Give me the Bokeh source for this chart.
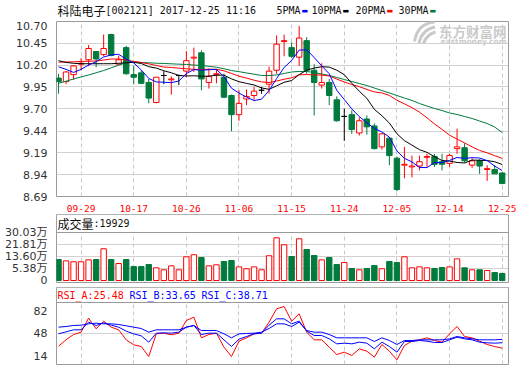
from bokeh.plotting import figure
from bokeh.layouts import column
from bokeh.models import (Range1d, FixedTicker, Span, Label, BoxAnnotation,
                          PrintfTickFormatter, ColumnDataSource)
from bokeh.embed import file_html
from bokeh.resources import INLINE

# ---------------- data ----------------
dates = ["09-26", "09-27", "09-28", "09-29", "10-09", "10-10", "10-11", "10-12", "10-13", "10-16",
         "10-17", "10-18", "10-19", "10-20", "10-23", "10-24", "10-25", "10-26", "10-27", "10-30",
         "10-31", "11-01", "11-02", "11-03", "11-06", "11-07", "11-08", "11-09", "11-10", "11-13",
         "11-14", "11-15", "11-16", "11-17", "11-20", "11-21", "11-22", "11-23", "11-24", "11-27",
         "11-28", "11-29", "11-30", "12-01", "12-04", "12-05", "12-06", "12-07", "12-08", "12-11",
         "12-12", "12-13", "12-14", "12-15", "12-18", "12-19", "12-20", "12-21", "12-22", "12-25"]
date_ticks = [3, 10, 17, 24, 31, 38, 45, 52, 59]

open_ = [10.05, 10.01, 10.09, 10.21, 10.26, 10.355, 10.32, 10.55, 10.21, 10.40,
         10.09, 10.11, 10.00, 9.77, 10.08, 10.03, 10.08, 10.13, 10.28, 10.34,
         10.00, 10.09, 10.06, 9.85, 9.63, 9.81, 9.85, 9.91, 9.98, 10.14,
         10.47, 10.40, 10.29, 10.48, 10.14, 9.97, 10.00, 9.80, 9.61, 9.63,
         9.42, 9.58, 9.50, 9.26, 9.36, 9.13, 9.05, 9.03, 9.04, 9.14,
         9.15, 9.09, 9.07, 9.24, 9.25, 9.05, 9.10, 9.00, 9.00, 8.96]
high = [10.10, 10.13, 10.20, 10.28, 10.43, 10.36, 10.55, 10.56, 10.31, 10.42,
        10.19, 10.14, 10.04, 10.06, 10.13, 10.07, 10.09, 10.36, 10.40, 10.37,
        10.16, 10.15, 10.10, 9.86, 9.91, 9.92, 9.95, 9.95, 10.18, 10.54,
        10.55, 10.46, 10.65, 10.52, 10.21, 10.22, 10.04, 9.84, 9.70, 9.68,
        9.60, 9.62, 9.53, 9.42, 9.37, 9.15, 9.26, 9.16, 9.16, 9.18,
        9.18, 9.18, 9.18, 9.47, 9.30, 9.13, 9.12, 9.05, 9.05, 8.97]
low = [9.87, 9.98, 10.03, 10.14, 10.19, 10.175, 10.30, 10.30, 10.20, 10.09,
       9.98, 9.98, 9.76, 9.76, 9.98, 9.86, 9.97, 10.06, 10.12, 9.91,
       9.93, 9.99, 9.82, 9.44, 9.56, 9.74, 9.80, 9.87, 9.87, 10.10,
       10.30, 10.28, 10.19, 10.10, 9.62, 9.93, 9.74, 9.55, 9.33, 9.41,
       9.39, 9.40, 9.23, 9.23, 9.05, 8.75, 8.90, 8.91, 8.99, 9.03,
       9.03, 8.99, 9.03, 9.18, 9.08, 9.02, 8.95, 8.87, 8.95, 8.83]
close = [10.01, 10.12, 10.19, 10.22, 10.39, 10.27, 10.39, 10.31, 10.26, 10.10,
         10.06, 9.99, 9.82, 10.06, 10.08, 10.04, 10.08, 10.25, 10.29, 10.04,
         10.07, 10.10, 9.83, 9.63, 9.76, 9.84, 9.90, 9.91, 10.13, 10.44,
         10.48, 10.30, 10.51, 10.14, 10.00, 10.00, 9.85, 9.56, 9.61, 9.46,
         9.56, 9.49, 9.24, 9.41, 9.16, 8.77, 9.06, 9.04, 9.09, 9.15,
         9.06, 9.06, 9.16, 9.26, 9.10, 9.10, 9.04, 9.01, 8.95, 8.84]

ma5 = [10.18, 10.15, 10.115, 10.15, 10.20, 10.238, 10.292, 10.316, 10.324, 10.266,
       10.224, 10.144, 10.046, 10.006, 10.002, 9.998, 10.016, 10.102, 10.148, 10.14,
       10.146, 10.15, 10.066, 9.934, 9.878, 9.832, 9.792, 9.808, 9.908, 10.044,
       10.172, 10.252, 10.372, 10.374, 10.286, 10.19, 10.10, 9.91, 9.804, 9.696,
       9.608, 9.536, 9.472, 9.432, 9.372, 9.214, 9.128, 9.088, 9.024, 9.022,
       9.08, 9.08, 9.104, 9.138, 9.128, 9.136, 9.132, 9.102, 9.04, 8.988]
ma10 = [10.25, 10.23, 10.22, 10.215, 10.215, 10.215, 10.215, 10.215, 10.22, 10.226,
        10.231, 10.218, 10.181, 10.165, 10.134, 10.111, 10.08, 10.074, 10.077, 10.071,
        10.072, 10.083, 10.084, 10.041, 10.009, 9.989, 9.971, 9.937, 9.921, 9.961,
        10.002, 10.022, 10.09, 10.141, 10.165, 10.181, 10.176, 10.141, 10.089, 9.991,
        9.899, 9.818, 9.691, 9.618, 9.534, 9.411, 9.332, 9.28, 9.228, 9.197,
        9.147, 9.104, 9.096, 9.081, 9.075, 9.108, 9.106, 9.103, 9.089, 9.058]
ma20 = [10.233, 10.235, 10.237, 10.241, 10.244, 10.246, 10.258, 10.269, 10.269, 10.258,
        10.241, 10.229, 10.214, 10.195, 10.177, 10.172, 10.164, 10.157, 10.15, 10.149,
        10.152, 10.151, 10.133, 10.103, 10.072, 10.05, 10.026, 10.006, 9.999, 10.016,
        10.037, 10.053, 10.087, 10.091, 10.087, 10.085, 10.074, 10.039, 10.005, 9.976,
        9.951, 9.92, 9.891, 9.88, 9.85, 9.796, 9.754, 9.711, 9.659, 9.594,
        9.523, 9.461, 9.394, 9.35, 9.305, 9.26, 9.219, 9.192, 9.159, 9.128]
ma30 = [9.991, 10.014, 10.04, 10.063, 10.085, 10.111, 10.137, 10.168, 10.198, 10.229,
        10.235, 10.229, 10.226, 10.221, 10.218, 10.214, 10.21, 10.206, 10.2, 10.195,
        10.185, 10.175, 10.157, 10.137, 10.124, 10.109, 10.095, 10.08, 10.08, 10.086,
        10.103, 10.12, 10.126, 10.126, 10.114, 10.097, 10.08, 10.057, 10.034, 10.011,
        9.988, 9.965, 9.936, 9.907, 9.879, 9.85, 9.821, 9.793, 9.758, 9.729,
        9.701, 9.678, 9.649, 9.632, 9.609, 9.586, 9.557, 9.528, 9.488, 9.425]

volume = [11.5, 10.6, 10.0, 10.0, 11.3, 11.5, 18.9, 11.5, 8.8, 11.5,
          6.7, 6.7, 8.1, 5.85, 4.5, 7.2, 4.5, 13.4, 14.8, 12.9,
          7.2, 7.9, 10.2, 10.85, 6.5, 5.2, 6.5, 4.5, 14.1, 26.4,
          21.6, 13.6, 25.7, 18.4, 14.3, 11.3, 12.9, 8.1, 9.5, 5.4,
          4.5, 5.4, 7.4, 5.2, 10.2, 9.5, 13.4, 5.85, 6.5, 5.85,
          5.4, 6.05, 6.5, 12.0, 5.85, 4.5, 4.5, 4.0, 2.6, 1.99]

rsi_a = [28.5, 38, 46, 49.5, 70.5, 54.5, 66, 57, 53, 38,
         30.5, 28, 13, 47, 48, 45.5, 48, 67, 72, 41,
         46, 48, 27, 13, 36, 41, 47, 48, 64.5, 84.5,
         88, 66, 77, 49.5, 38, 38, 27, 16, 19.5, 14.5,
         24.5, 21, 12, 31, 21, 8, 29.5, 36, 38, 41,
         37, 34.5, 47, 58, 43, 41, 36, 31, 28, 25.48]
rsi_b = [47, 50, 53, 53, 64.5, 59.5, 63.5, 60, 57, 51,
         47, 44, 34.5, 48, 48.5, 48, 49.5, 57, 59.5, 46,
         48, 48, 38, 28, 39, 43, 47, 48, 60, 69.5,
         69.5, 62, 66, 51, 44.5, 44.5, 39.5, 32, 33, 32,
         34.5, 33, 24.5, 34.5, 28, 19.5, 35.5, 35.5, 37, 36,
         34, 34, 38, 42, 39.5, 38, 34.5, 33.5, 33, 33.65]
rsi_c = [57, 58, 59.5, 60, 62, 63, 62, 62, 61, 59,
         57, 55, 49.5, 53, 53, 53, 53, 57, 59.5, 52,
         52, 52, 47, 41, 47, 47.5, 48, 49.5, 55, 62,
         62, 58, 64.5, 52, 49.5, 49.5, 46, 41, 41, 41,
         41, 41, 35.5, 41, 37, 31, 37, 37, 38, 38,
         38, 38, 39.5, 43, 41, 39.5, 38, 38, 38, 38.71]

price_ticks = [8.69, 8.94, 9.19, 9.44, 9.70, 9.95, 10.20, 10.45, 10.70]
vol_tick_values = [5.38, 13.60, 21.81, 30.03]
vol_tick_labels = ["5.38万", "13.60万", "21.81万", "30.03万"]
rsi_ticks = [14, 48, 82]
last_volume = "19929"
rsi_last = [25.48, 33.65, 38.71]

# ---------------- styling / layout ----------------
RED = "#ff0000"
GREEN = "#007a3d"
BLUE = "#0000ff"
BLACK = "#000000"
GRID = "#d2d2d2"
FRAME = "#9a9a9a"
WM = "#cacaca"
MONO = "DejaVu Sans Mono"
CJK = "Noto Sans CJK SC"
AXF = "DejaVu Sans, Noto Sans CJK SC"

W, LB, RB = 520, 56, 12
FW = W - LB - RB                     # 452 px frame width (x 56..508)
x_lo, x_hi = -0.27, 59.84
xr = Range1d(x_lo, x_hi)
N = len(close)
idx = list(range(N))

def xd(ax):  # page x -> data x
    return x_lo + (ax - LB) * (x_hi - x_lo) / FW

col = [RED if c > o else (GREEN if c < o else BLACK) for o, c in zip(open_, close)]
fill = ["#ffffff" if c > o else (GREEN if c < o else BLACK) for o, c in zip(open_, close)]
vcol = [GREEN if c < o else RED for o, c in zip(open_, close)]
vfill = [GREEN if c < o else "#ffffff" for o, c in zip(open_, close)]

def style_y(ax, ticks):
    ax.ticker = FixedTicker(ticks=ticks)
    ax.axis_line_color = None
    ax.major_tick_line_color = None
    ax.minor_tick_line_color = None
    ax.major_label_text_font = AXF
    ax.major_label_text_font_size = "11px"
    ax.major_label_text_color = "#333333"
    ax.major_label_standoff = 3

def base(height, yr, top, bottom, xaxis=True):
    p = figure(width=W, height=height, x_range=xr, y_range=yr, title=None,
               min_border_left=LB, min_border_right=RB, min_border_top=top,
               min_border_bottom=bottom, toolbar_location=None, output_backend="svg",
               x_axis_location="below" if xaxis else None)
    p.outline_line_color = FRAME
    p.xgrid.ticker = FixedTicker(ticks=date_ticks)
    p.xgrid.grid_line_color = "#c8c8c8"
    p.xgrid.grid_line_dash = "4 3"
    p.ygrid.grid_line_color = GRID
    return p

src = ColumnDataSource(dict(x=idx, o=open_, h=high, l=low, c=close,
                            top=[max(o, c) for o, c in zip(open_, close)],
                            bot=[min(o, c) for o, c in zip(open_, close)],
                            col=col, fill=fill, vol=volume, vcol=vcol, vfill=vfill,
                            ma5=ma5, ma10=ma10, ma20=ma20, ma30=ma30,
                            ra=rsi_a, rb=rsi_b, rc=rsi_c))

# ---------------- header strip (title + legend) ----------------
H0 = 21
p0 = figure(width=W, height=H0, x_range=xr, y_range=Range1d(0, H0), title=None,
            min_border_left=LB, min_border_right=RB, min_border_top=0, min_border_bottom=0,
            toolbar_location=None, output_backend="svg", x_axis_location=None,
            y_axis_location=None)
p0.outline_line_color = None
p0.grid.visible = False
ty = H0 - 10.3
p0.add_layout(Label(x=xd(57), y=ty, text="科陆电子", text_font=CJK, text_font_size="12px",
                    text_baseline="middle", text_color="#111111"))
p0.add_layout(Label(x=xd(105), y=ty, text="[002121] 2017-12-25 11:16", text_font=MONO,
                    text_font_size="10px", text_baseline="middle", text_color="#111111"))
leg = [("5PMA", BLUE, 276), ("10PMA", BLACK, 311), ("20PMA", RED, 355), ("30PMA", GREEN, 398)]
for txt, c, ax in leg:
    p0.add_layout(Label(x=xd(ax), y=ty, text=txt, text_font=MONO, text_font_size="10px",
                        text_baseline="middle", text_color="#111111"))
    p0.add_layout(Label(x=xd(ax + 6 * len(txt) + 1), y=ty, text="▬", text_font="DejaVu Sans",
                        text_font_size="7px", text_baseline="middle", text_color=c))

# ---------------- main K-line panel ----------------
P_LO, P_HI = 8.69, 10.70
p1 = base(193, Range1d(P_LO, P_HI), 0, 18)

def y1(ay):
    return P_HI - (ay - 21) * (P_HI - P_LO) / 175

style_y(p1.yaxis[0], price_ticks)
p1.yaxis.formatter = PrintfTickFormatter(format="%.2f")
p1.ygrid.ticker = FixedTicker(ticks=price_ticks)
xa = p1.xaxis[0]
xa.ticker = FixedTicker(ticks=date_ticks)
xa.major_label_overrides = {i: dates[i] for i in date_ticks}
xa.axis_line_color = None
xa.major_tick_line_color = None
xa.minor_tick_line_color = None
xa.major_label_text_color = RED
xa.major_label_text_font = MONO
xa.major_label_text_font_size = "9.5px"
xa.major_label_standoff = 2

# watermark (logo strokes + text)
lx0 = [xd(414), xd(418.5), xd(423)]
ly0 = [y1(41), y1(42.5), y1(43)]
lx1 = [xd(434), xd(434.5), xd(435)]
ly1 = [y1(21.5), y1(26.5), y1(31.5)]
lcx = [xd(417), xd(421.5), xd(426)]
lcy = [y1(23), y1(29), y1(34)]
p1.quadratic(x0=lx0, y0=ly0, x1=lx1, y1=ly1, cx=lcx, cy=lcy, line_color=WM, line_width=3)
p1.add_layout(Label(x=xd(506), y=y1(30), text="东方财富网", text_font=CJK, text_font_style="bold",
                    text_font_size="13.5px", text_align="right", text_baseline="middle",
                    text_color=WM))
p1.add_layout(Label(x=xd(506), y=y1(40.5), text="eastmoney.com", text_font="DejaVu Sans",
                    text_font_style="bold", text_font_size="7.5px", text_align="right",
                    text_baseline="middle", text_color=WM))

p1.segment(x0="x", y0="l", x1="x", y1="h", color="col", line_width=1, source=src)
p1.vbar(x="x", width=0.72, top="top", bottom="bot", fill_color="fill",
        line_color="col", line_width=1, source=src)
for name, c in (("ma30", GREEN), ("ma20", RED), ("ma10", BLACK), ("ma5", BLUE)):
    p1.line("x", name, color=c, line_width=1, source=src)

# ---------------- volume panel ----------------
v_step = (vol_tick_values[-1] - vol_tick_values[0]) / 3
v_bot = round(vol_tick_values[-1] - 4 * v_step, 4)
v_top = vol_tick_values[-1]
v_px = 48 / (v_top - v_bot)
p2 = base(72, Range1d(v_bot - 2 / v_px, v_top + 18 / v_px), 0, 4, xaxis=False)

def y2(ay):
    return v_top + (232 - ay) / v_px

vt = [v_bot] + vol_tick_values
style_y(p2.yaxis[0], vt)
p2.yaxis.major_label_overrides = dict(zip(vt, ["0"] + vol_tick_labels))
p2.ygrid.ticker = FixedTicker(ticks=vol_tick_values[:-1])
p2.vbar(x="x", width=0.72, top="vol", bottom=v_bot, fill_color="vfill", line_color="vcol",
        line_width=1, source=src)
p2.add_layout(BoxAnnotation(bottom=v_top, left=x_lo + 0.05, right=x_hi - 0.05,
                            fill_color="white", fill_alpha=1.0, line_alpha=0))
p2.add_layout(Span(location=v_top, dimension="width", line_color=FRAME, line_width=1))
p2.add_layout(Label(x=xd(57), y=y2(223), text="成交量", text_font=CJK, text_font_size="12px",
                    text_baseline="middle", text_color="#111111"))
p2.add_layout(Label(x=xd(93), y=y2(223), text=":" + last_volume, text_font=MONO,
                    text_font_size="10px", text_baseline="middle", text_color="#111111"))

# ---------------- RSI panel ----------------
R_LO, R_HI = 1.0, 94.0
r_px = 62 / (R_HI - R_LO)
p3 = base(79, Range1d(R_LO, R_HI + 15 / r_px), 1, 1, xaxis=False)

def y3(ay):
    return R_HI + (302 - ay) / r_px

style_y(p3.yaxis[0], rsi_ticks)
p3.ygrid.ticker = FixedTicker(ticks=[48])
p3.line("x", "ra", color=RED, line_width=1, source=src)
p3.line("x", "rb", color=BLUE, line_width=1, source=src)
p3.line("x", "rc", color=BLUE, line_width=1, source=src)
p3.add_layout(BoxAnnotation(bottom=R_HI, left=x_lo + 0.05, right=x_hi - 0.05,
                            fill_color="white", fill_alpha=1.0, line_alpha=0))
p3.add_layout(Span(location=R_HI, dimension="width", line_color=FRAME, line_width=1))
for k, (nm, c) in enumerate((("RSI_A", RED), ("RSI_B", BLUE), ("RSI_C", BLUE))):
    p3.add_layout(Label(x=xd(57 + 72 * k), y=y3(294.5), text="%s:%.2f" % (nm, rsi_last[k]),
                        text_font=MONO, text_font_size="10px", text_baseline="middle",
                        text_color=c))

layout = column(p0, p1, p2, p3, spacing=0)
open("out.html", "w").write(file_html(layout, INLINE))
